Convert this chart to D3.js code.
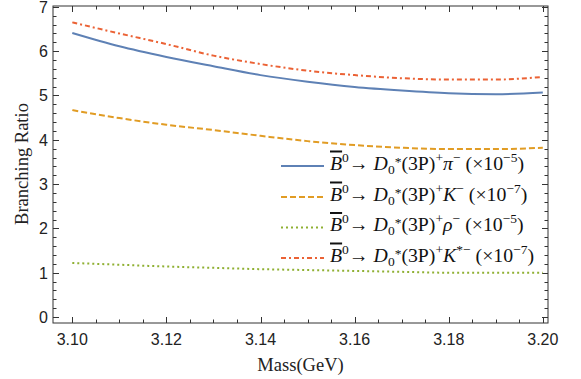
<!DOCTYPE html>
<html>
<head>
<meta charset="utf-8">
<script src="https://cdn.jsdelivr.net/npm/d3@7"></script>
<style>
  body { margin: 0; background: #fff; }
  svg { display: block; }
</style>
</head>
<body>
<svg width="581" height="379"></svg>
<script>
const mass = [3.10, 3.11, 3.12, 3.13, 3.14, 3.15, 3.16, 3.17, 3.18, 3.19, 3.20];
const brPi   = [6.41, 6.11, 5.87, 5.66, 5.46, 5.31, 5.19, 5.11, 5.05, 5.03, 5.07];
const brK    = [4.67, 4.49, 4.34, 4.22, 4.09, 3.97, 3.88, 3.82, 3.79, 3.79, 3.82];
const brRho  = [1.22, 1.18, 1.14, 1.11, 1.08, 1.06, 1.04, 1.02, 1.00, 1.00, 1.00];
const brKst  = [6.65, 6.40, 6.16, 5.90, 5.71, 5.56, 5.46, 5.39, 5.36, 5.36, 5.42];
const xTicks = [3.10, 3.12, 3.14, 3.16, 3.18, 3.20];
const yTicks = [0, 1, 2, 3, 4, 5, 6, 7];

const svg = d3.select("svg");
const mLeft = 53, mRight = 548, mTop = 6, mBottom = 323;

let x = d3.scaleLinear().domain([3.0959, 3.2011]).range([mLeft, mRight]);
let y = d3.scaleLinear().domain([-0.135, 7.02]).range([mBottom, mTop]);

// frame
svg.append("rect")
    .attr("x", mLeft).attr("y", mTop)
    .attr("width", mRight - mLeft).attr("height", mBottom - mTop)
    .attr("fill", "none").attr("stroke", "#333").attr("stroke-width", 1);

// ticks (inside, all four sides)
let xMinor = d3.range(3.10, 3.2001, 0.005);
let yMinor = d3.range(0, 7.001, 0.2);
let tickG = svg.append("g").attr("stroke", "#333").attr("stroke-width", 1);
xMinor.forEach(function(v) {
    let major = xTicks.some(t => Math.abs(t - v) < 1e-6);
    let len = major ? 6 : 3.5;
    let px = Math.round(x(v)) + 0.5;
    tickG.append("line").attr("x1", px).attr("x2", px).attr("y1", mBottom).attr("y2", mBottom - len);
    tickG.append("line").attr("x1", px).attr("x2", px).attr("y1", mTop).attr("y2", mTop + len);
});
yMinor.forEach(function(v) {
    let major = yTicks.some(t => Math.abs(t - v) < 1e-6);
    let len = major ? 6 : 3.5;
    let py = Math.round(y(v)) + 0.5;
    tickG.append("line").attr("y1", py).attr("y2", py).attr("x1", mLeft).attr("x2", mLeft + len);
    tickG.append("line").attr("y1", py).attr("y2", py).attr("x1", mRight).attr("x2", mRight - len);
});

// tick labels
svg.selectAll(".xlab").data(xTicks).enter().append("text")
    .attr("class", "xlab")
    .attr("x", d => x(d)).attr("y", 345)
    .attr("text-anchor", "middle")
    .attr("font-family", "Liberation Sans, Arial, sans-serif")
    .attr("font-size", "16px").attr("fill", "#222")
    .text(d => d.toFixed(2));
svg.selectAll(".ylab").data(yTicks).enter().append("text")
    .attr("class", "ylab")
    .attr("x", 48).attr("y", d => y(d) + 5.8)
    .attr("text-anchor", "end")
    .attr("font-family", "Liberation Sans, Arial, sans-serif")
    .attr("font-size", "16px").attr("fill", "#222")
    .text(d => d);

// axis titles
svg.append("text")
    .attr("x", (mLeft + mRight) / 2).attr("y", 371)
    .attr("text-anchor", "middle")
    .attr("font-family", "Liberation Serif, Times New Roman, serif")
    .attr("font-size", "18.5px").attr("fill", "#222")
    .text("Mass(GeV)");
svg.append("text")
    .attr("transform", "translate(28,164) rotate(-90)")
    .attr("text-anchor", "middle")
    .attr("font-family", "Liberation Serif, Times New Roman, serif")
    .attr("font-size", "18.5px").attr("fill", "#222")
    .text("Branching Ratio");

// series
const series = [
    {name: "pi",  values: brPi,  color: "#5E81B5", dash: null,        width: 2,   meson: "π",  sup2: "−", exp: "−5"},
    {name: "K",   values: brK,   color: "#E19C24", dash: "6,3",       width: 2,   meson: "K",  sup2: "−", exp: "−7"},
    {name: "rho", values: brRho, color: "#8FB032", dash: "2,3",       width: 2,   meson: "ρ",  sup2: "−", exp: "−5"},
    {name: "Kst", values: brKst, color: "#EB6235", dash: "5,3,2,3",   width: 2,   meson: "K",  sup2: "*−", exp: "−7"}
];

let line = d3.line()
    .x((d, i) => x(mass[i]))
    .y(d => y(d))
    .curve(d3.curveMonotoneX);

series.forEach(function(s) {
    svg.append("path")
        .datum(s.values)
        .attr("d", line)
        .attr("fill", "none")
        .attr("stroke", s.color)
        .attr("stroke-width", s.width)
        .attr("stroke-dasharray", s.dash);
});

// legend
const legendY = [166, 197, 227.5, 258];
series.forEach(function(s, i) {
    let ly = legendY[i];
    svg.append("line")
        .attr("x1", 281).attr("x2", 324)
        .attr("y1", ly).attr("y2", ly)
        .attr("stroke", s.color).attr("stroke-width", s.width)
        .attr("stroke-dasharray", s.dash);

    let t = svg.append("text")
        .attr("x", 330).attr("y", ly + 3.5)
        .attr("font-family", "Liberation Serif, Times New Roman, serif")
        .attr("font-size", "19.8px").attr("fill", "#111");
    let parts = [
        {t: "B", i: true, over: true},
        {t: "0", sup: true},
        {t: "→ "},
        {t: "D", i: true},
        {t: "0", sub: true},
        {t: "*", sup: true, small: true},
        {t: "(3P)"},
        {t: "+", sup: true},
        {t: s.meson, i: true},
        {t: s.sup2, sup: true},
        {t: " (×10"},
        {t: s.exp, sup: true},
        {t: ")"}
    ];
    let shift = 0;
    parts.forEach(function(p) {
        let target = p.sup ? (p.small ? -4 : -8) : (p.sub ? 4 : 0);
        let ts = t.append("tspan")
            .attr("dy", target - shift)
            .text(p.t);
        shift = target;
        if (p.sup || p.sub) ts.attr("font-size", "13.5px");
        if (p.i) ts.attr("font-style", "italic");
        if (p.over) ts.attr("text-decoration", "overline");
    });
    t.attr("xml:space", "preserve").style("white-space", "pre");
});
</script>
</body>
</html>
